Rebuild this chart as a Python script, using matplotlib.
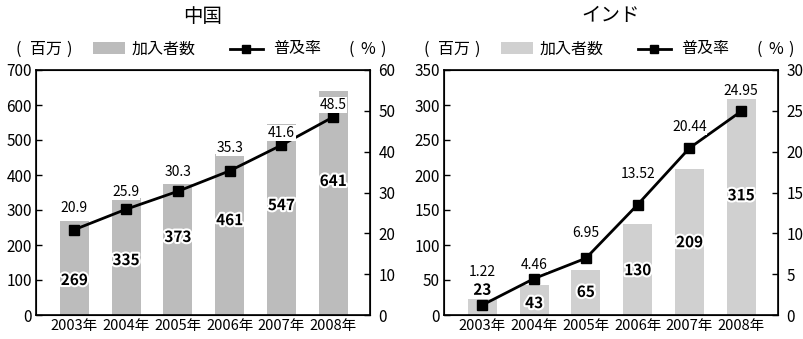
import matplotlib
matplotlib.use("Agg")
import matplotlib.pyplot as plt
import matplotlib.patheffects as pe
from matplotlib.patches import Rectangle
from matplotlib.lines import Line2D
import numpy as np

plt.rcParams['font.family'] = ['Noto Sans CJK JP', 'DejaVu Sans']

years = ["2003年", "2004年", "2005年", "2006年", "2007年", "2008年"]

china_subs = [269, 335, 373, 461, 547, 641]
china_rate = [20.9, 25.9, 30.3, 35.3, 41.6, 48.5]
india_subs = [23, 43, 65, 130, 209, 315]
india_rate = [1.22, 4.46, 6.95, 13.52, 20.44, 24.95]

china_left_ticks = [0, 100, 200, 300, 400, 500, 600, 700]
china_right_ticks = [0, 10, 20, 30, 40, 50, 60]
india_left_ticks = [0, 50, 100, 150, 200, 250, 300, 350]
india_right_ticks = [0, 5, 10, 15, 20, 25, 30]

# label placement (layout only)
china_count_y = [100, 157, 223, 271, 314, 383]
india_count_y = [36, 17, 33, 64, 104, 171]
china_rate_dy = [22, 17, 19, 23, 12, 12]   # pixels above marker
india_rate_dy = [33, 14, 25, 31, 21, 20]

W, H = 804, 339
fig = plt.figure(figsize=(W / 100, H / 100), dpi=100)


def px(x, y):
    return x / W, 1 - y / H


def panel(x0, title, subs, rate, lt, rt, bar_color, count_y, rate_dy):
    ax = fig.add_axes([x0 / W, 24 / H, 334 / W, 245 / H])
    x = np.arange(len(years))
    ax.bar(x, subs, width=0.56, color=bar_color, zorder=1)
    ax.set_xlim(-0.74, 5.71)
    ax.set_ylim(lt[0], lt[-1])
    ax.set_yticks(lt)
    ax.set_xticks(x)
    ax.set_xticklabels(years)
    ax.tick_params(axis='y', direction='in', length=4, width=1, labelsize=11, pad=3)
    ax.tick_params(axis='x', length=0, labelsize=10.5, pad=3)
    for s in ax.spines.values():
        s.set_linewidth(1.2)

    ax2 = ax.twinx()
    ax2.set_ylim(rt[0], rt[-1])
    ax2.set_yticks(rt)
    ax2.tick_params(axis='y', direction='in', length=4, width=1, labelsize=11, pad=6)
    ax2.plot(x, rate, color='black', lw=2, marker='s', ms=7, zorder=3)

    for xi, v, yy in zip(x, subs, count_y):
        ax.text(xi, yy, str(v), ha='center', va='center', fontsize=11,
                fontweight='bold', color='black', zorder=5,
                path_effects=[pe.withStroke(linewidth=3, foreground='white')])
    for xi, r, dy in zip(x, rate, rate_dy):
        ax2.annotate(f"{r}", (xi, r), xytext=(0, dy * 0.72), textcoords='offset points',
                     ha='center', va='center', fontsize=10, color='black', zorder=6,
                     bbox=dict(boxstyle='square,pad=0.05', fc='white', ec='none'))

    # title and legend row
    cx = x0 + 167
    fs = 11.5
    fig.text(*px(cx, 16), title, ha='center', va='center', fontsize=14)
    for dx, s in [(-18, "("), (10, "百万"), (33, ")")]:
        fig.text(*px(x0 + dx, 49), s, ha='center', va='center', fontsize=fs)
    fig.patches.append(Rectangle(px(x0 + 57, 54), 32 / W, 12 / H, transform=fig.transFigure,
                                 facecolor=bar_color, edgecolor='none'))
    fig.text(*px(x0 + 96, 49), "加入者数", ha='left', va='center', fontsize=fs)
    fig.lines.append(Line2D([(x0 + 194) / W, (x0 + 227) / W], [1 - 49 / H] * 2,
                            transform=fig.transFigure, color='black', lw=2))
    fig.lines.append(Line2D([(x0 + 210.5) / W], [1 - 49 / H], transform=fig.transFigure,
                            color='black', marker='s', ms=6, lw=0))
    fig.text(*px(x0 + 237, 49), "普及率", ha='left', va='center', fontsize=fs)
    for dx, s in [(315, "("), (332, "%"), (347, ")")]:
        fig.text(*px(x0 + dx, 49), s, ha='center', va='center', fontsize=fs)
    return ax, ax2


panel(36, "中国", china_subs, china_rate, china_left_ticks, china_right_ticks,
      '#bcbcbc', china_count_y, china_rate_dy)
panel(444, "インド", india_subs, india_rate, india_left_ticks, india_right_ticks,
      '#d0d0d0', india_count_y, india_rate_dy)

fig.savefig("out.png", dpi=100)
